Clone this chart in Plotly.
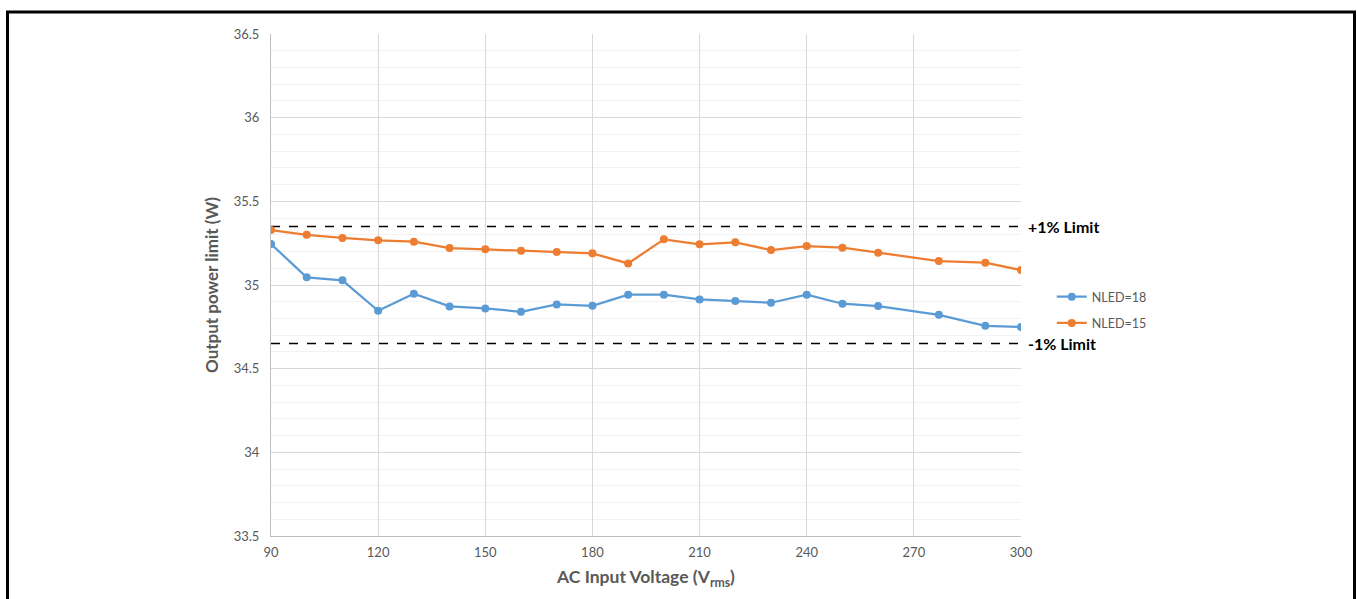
import plotly.graph_objects as go

voltage = [90, 100, 110, 120, 130, 140, 150, 160, 170, 180, 190, 200, 210, 220, 230, 240, 250, 260, 277, 290, 300]
nled18 = [35.245, 35.046, 35.028, 34.846, 34.948, 34.872, 34.860, 34.840, 34.884, 34.876, 34.942,
          34.942, 34.914, 34.904, 34.894, 34.942, 34.888, 34.874, 34.822, 34.756, 34.749]
nled15 = [35.328, 35.300, 35.281, 35.267, 35.259, 35.221, 35.213, 35.205, 35.197, 35.189, 35.129,
          35.273, 35.243, 35.255, 35.209, 35.233, 35.223, 35.193, 35.143, 35.133, 35.089]
limit_x = [90, 300]
upper_limit = [35.35, 35.35]
lower_limit = [34.65, 34.65]
limit_labels = ["+1% Limit", "-1% Limit"]

FONT = "Lato"
GRAY = "#595959"

fig = go.Figure()
fig.add_trace(go.Scatter(x=limit_x, y=upper_limit, mode="lines", showlegend=False,
                         line=dict(color="black", width=1.5, dash="dash"), hoverinfo="skip"))
fig.add_trace(go.Scatter(x=limit_x, y=lower_limit, mode="lines", showlegend=False,
                         line=dict(color="black", width=1.5, dash="dash"), hoverinfo="skip"))
fig.add_trace(go.Scatter(x=voltage, y=nled18, mode="lines+markers", name="NLED=18",
                         line=dict(color="#5B9BD5", width=2.25),
                         marker=dict(color="#5B9BD5", size=8), legendgroup="a"))
fig.add_trace(go.Scatter(x=voltage, y=nled15, mode="lines+markers", name="NLED=15",
                         line=dict(color="#ED7D31", width=2.25),
                         marker=dict(color="#ED7D31", size=8), legendgroup="b"))

for lab, yv in zip(limit_labels, [upper_limit[-1], lower_limit[-1]]):
    fig.add_annotation(x=limit_x[-1], y=yv, xref="x", yref="y", text="<b>%s</b>" % lab,
                       showarrow=False, xanchor="left", xshift=5,
                       font=dict(family=FONT, size=16, color="black"))

# outer frame
fig.add_shape(type="rect", xref="paper", yref="paper",
              x0=(7.5 - 271) / 750, x1=(1354.5 - 271) / 750,
              y0=(536 - 620) / 502, y1=(536 - 12) / 502,
              line=dict(color="black", width=3), fillcolor="rgba(0,0,0,0)", layer="above")

fig.update_layout(
    width=1357, height=599,
    margin=dict(l=271, r=336, t=34, b=63),
    paper_bgcolor="white", plot_bgcolor="white",
    font=dict(family=FONT, size=13, color=GRAY),
    legend=dict(x=1.041, y=0.45, xanchor="left", yanchor="middle",
                font=dict(family=FONT, size=12.5, color=GRAY),
                tracegroupgap=7, traceorder="grouped", bgcolor="rgba(0,0,0,0)"),
    xaxis=dict(range=[90, 300], tick0=90, dtick=30, showgrid=True, gridcolor="#d9d9d9", gridwidth=1,
               showline=True, linecolor="#bfbfbf", linewidth=1, zeroline=False, ticks="",
               ticklabelstandoff=4,
               tickfont=dict(family=FONT, size=13, color=GRAY),
               title=dict(text="<b>AC Input Voltage (V<sub>rms</sub>)</b>", standoff=12,
                          font=dict(family=FONT, size=17.5, color=GRAY))),
    yaxis=dict(range=[33.5, 36.5], tick0=33.5, dtick=0.5, showgrid=True, gridcolor="#d9d9d9", gridwidth=1,
               minor=dict(dtick=0.1, showgrid=True, gridcolor="#f2f2f2", gridwidth=1),
               showline=True, linecolor="#bfbfbf", linewidth=1, zeroline=False, ticks="",
               ticklabelstandoff=8,
               tickfont=dict(family=FONT, size=13, color=GRAY),
               title=dict(text="<b>Output power limit (W)</b>", standoff=10,
                          font=dict(family=FONT, size=17, color=GRAY))),
)
fig.write_html("out.html")
